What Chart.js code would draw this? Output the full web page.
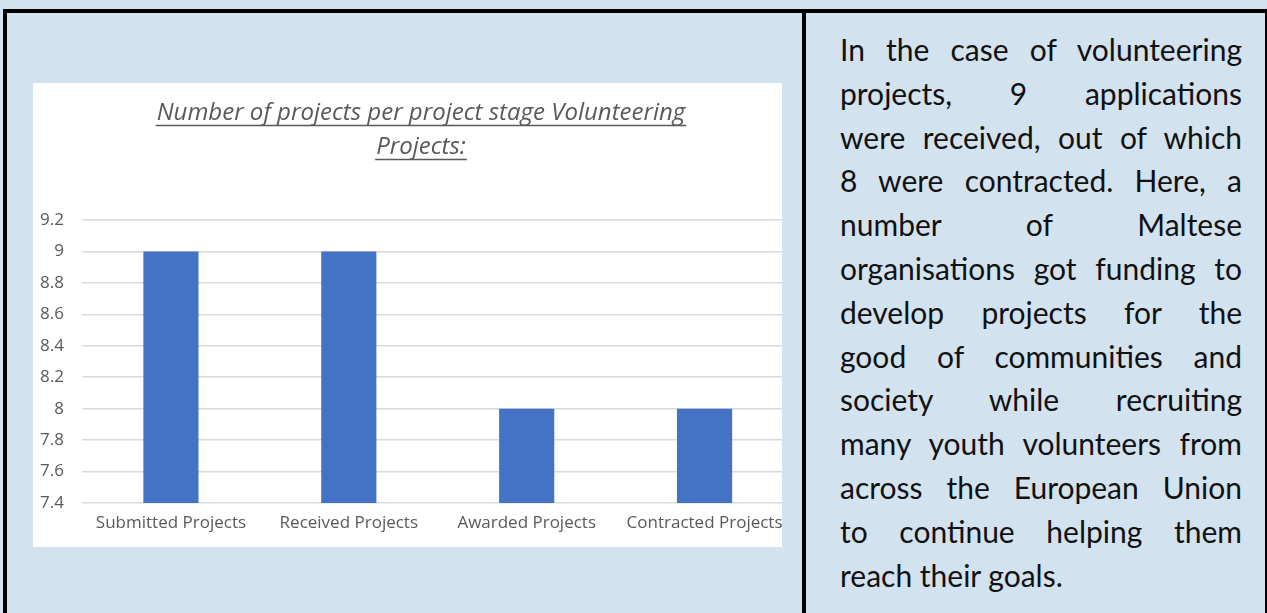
<!DOCTYPE html>
<html>
<head>
<meta charset="utf-8">
<script src="https://cdn.jsdelivr.net/npm/chart.js@4/dist/chart.umd.min.js"></script>
<style>
  html, body { margin:0; padding:0; }
  body { width:1267px; height:613px; overflow:hidden; background:#d3e2ef; position:relative; font-family:"Lato", sans-serif; }
  #frame { position:absolute; left:3px; top:9px; width:1258px; height:700px; border:4px solid #000; box-sizing:content-box; }
  #divider { position:absolute; left:802px; top:9px; width:4px; height:700px; background:#000; }
  #chartBox { position:absolute; left:33px; top:83px; width:749px; height:464px; background:#fff; overflow:hidden; }
  #chartInner { position:absolute; left:0; top:0; width:776px; height:464px; }
  #text { position:absolute; left:840px; top:28px; width:402px; font-size:30px; line-height:43.8px; color:#111; }
  #text div { text-align:justify; text-align-last:justify; }
  #text div.last { text-align-last:left; }
</style>
</head>
<body>
<div id="frame"></div>
<div id="divider"></div>
<div id="chartBox"><div id="chartInner"><canvas id="c"></canvas></div></div>
<div id="text">
  <div>In the case of volunteering</div>
  <div>projects, 9 applications</div>
  <div>were received, out of which</div>
  <div>8 were contracted. Here, a</div>
  <div>number of Maltese</div>
  <div>organisations got funding to</div>
  <div>develop projects for the</div>
  <div>good of communities and</div>
  <div>society while recruiting</div>
  <div>many youth volunteers from</div>
  <div>across the European Union</div>
  <div>to continue helping them</div>
  <div class="last">reach their goals.</div>
</div>
<script>
const categories = ["Submitted Projects", "Received Projects", "Awarded Projects", "Contracted Projects"];
const projectCounts = [9, 9, 8, 8];
const yTickValues = [7.4, 7.6, 7.8, 8, 8.2, 8.4, 8.6, 8.8, 9, 9.2];
const yTickLabels = ["7.4", "7.6", "7.8", "8", "8.2", "8.4", "8.6", "8.8", "9", "9.2"];
const titleLines = ["Number of projects per project stage Volunteering", "Projects:"];

const titleSpan = {
  id: 'titleSpan',
  afterLayout(chart) {
    const t = chart.titleBlock;
    if (!t) return;
    t.left = 0;
    t.right = chart.width;
  },
  afterDraw(chart) {
    const t = chart.titleBlock;
    if (!t) return;
    const font = Chart.helpers.toFont(t.options.font);
    const ctx = chart.ctx;
    ctx.save();
    ctx.font = font.string;
    ctx.strokeStyle = '#595959';
    ctx.lineWidth = 1.3;
    const cx = (t.left + t.right) / 2;
    const padTop = t.options.padding.top !== undefined ? t.options.padding.top : t.options.padding;
    titleLines.forEach((line, i) => {
      const w = ctx.measureText(line).width;
      const cy = t.top + padTop + font.lineHeight / 2 + i * font.lineHeight;
      const uy = Math.round(cy + font.size * 0.5) + 0.5;
      ctx.beginPath();
      ctx.moveTo(cx - w / 2 - 1, uy);
      ctx.lineTo(cx + w / 2 + 1, uy);
      ctx.stroke();
    });
    ctx.restore();
  }
};

new Chart(document.getElementById('c'), {
  type: 'bar',
  data: {
    labels: categories,
    datasets: [{
      data: projectCounts,
      backgroundColor: '#4472c4',
      borderWidth: 0,
      barPercentage: 0.31,
      categoryPercentage: 1.0
    }]
  },
  plugins: [titleSpan],
  options: {
    responsive: true,
    maintainAspectRatio: false,
    animation: false,
    layout: { padding: { left: 0, right: 15.5, top: 0, bottom: 0 } },
    plugins: {
      legend: { display: false },
      tooltip: { enabled: false },
      title: {
        display: true,
        text: titleLines,
        color: '#595959',
        font: { family: '"Open Sans", sans-serif', size: 24, style: 'italic', weight: 'normal', lineHeight: 1.417 },
        padding: { top: 13, bottom: 56 }
      }
    },
    scales: {
      x: {
        grid: { display: false, drawTicks: false },
        border: { display: false },
        ticks: { color: '#595959', font: { family: '"Open Sans", sans-serif', size: 17 }, padding: 10, maxRotation: 0, autoSkip: false },
        afterFit(scale) { scale.height = 44; }
      },
      y: {
        min: 7.4,
        max: 9.2,
        grid: { color: '#d9d9d9', lineWidth: 1.5, drawTicks: false },
        border: { display: false },
        afterBuildTicks(scale) { scale.ticks = yTickValues.map(v => ({ value: v })); },
        ticks: {
          color: '#595959',
          font: { family: '"Open Sans", sans-serif', size: 17 },
          padding: 18,
          callback(value, index) { return yTickLabels[index]; }
        },
        afterFit(scale) { scale.width = 49; }
      }
    }
  }
});
</script>
</body>
</html>
